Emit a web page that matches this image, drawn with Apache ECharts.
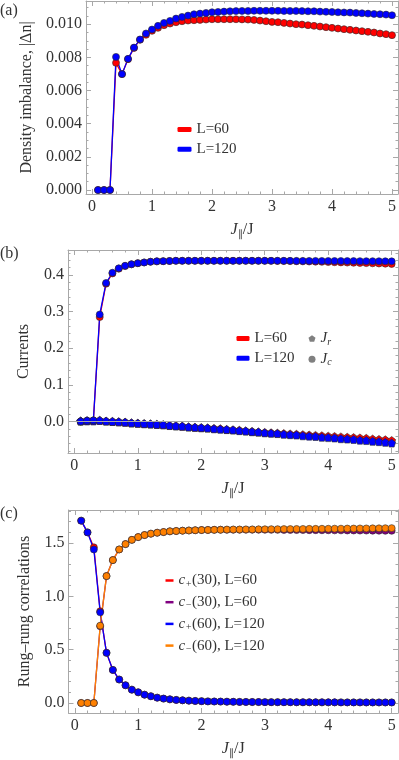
<!DOCTYPE html>
<html>
<head>
<meta charset="utf-8">
<script src="https://cdn.jsdelivr.net/npm/echarts@6/dist/echarts.min.js"></script>
<style>
  html, body { margin: 0; padding: 0; background: #fff; }
  #main { width: 399px; height: 760px; }
</style>
</head>
<body>
<div id="main"></div>
<script>
// J_par / J values (same grid for every curve)
const xs = [0.1, 0.2, 0.3, 0.4, 0.5, 0.6, 0.7, 0.8, 0.9, 1.0,
            1.1, 1.2, 1.3, 1.4, 1.5, 1.6, 1.7, 1.8, 1.9, 2.0,
            2.1, 2.2, 2.3, 2.4, 2.5, 2.6, 2.7, 2.8, 2.9, 3.0,
            3.1, 3.2, 3.3, 3.4, 3.5, 3.6, 3.7, 3.8, 3.9, 4.0,
            4.1, 4.2, 4.3, 4.4, 4.5, 4.6, 4.7, 4.8, 4.9, 5.0];

// (a) density imbalance |dn|
const dnL60 = [0, 0, 0, 0.00767, 0.00699, 0.00789, 0.00857, 0.00906, 0.00936, 0.0096,
               0.00978, 0.00994, 0.01004, 0.01012, 0.01018, 0.01022, 0.01024, 0.01026, 0.01028, 0.0103,
               0.0103, 0.0103, 0.0103, 0.0103, 0.01029, 0.01028, 0.01026, 0.01022, 0.01018, 0.01014,
               0.01012, 0.01008, 0.01004, 0.01, 0.00998, 0.00994, 0.0099, 0.00986, 0.00982, 0.00978,
               0.00974, 0.0097, 0.00966, 0.00962, 0.00958, 0.00954, 0.0095, 0.00944, 0.0094, 0.00934];
const dnL120 = [0, 0, 0, 0.00803, 0.00699, 0.00791, 0.00859, 0.00908, 0.00944, 0.00968,
                0.0099, 0.01008, 0.0102, 0.01034, 0.01044, 0.01052, 0.0106, 0.01064, 0.01068, 0.01072,
                0.01074, 0.01076, 0.01078, 0.01079, 0.0108, 0.0108, 0.01081, 0.01081, 0.01081, 0.01081,
                0.01081, 0.0108, 0.0108, 0.0108, 0.01079, 0.01078, 0.01078, 0.01076, 0.01075, 0.01074,
                0.01072, 0.01071, 0.0107, 0.01068, 0.01066, 0.01064, 0.01062, 0.0106, 0.01058, 0.01054];

// (b) currents
const jcL60 = [0, 0.002, 0.003, 0.285, 0.376, 0.404, 0.417, 0.424, 0.429, 0.432,
               0.434, 0.436, 0.437, 0.4375, 0.438, 0.4385, 0.4385, 0.4385, 0.4385, 0.4385,
               0.4385, 0.4385, 0.4385, 0.4385, 0.4385, 0.4385, 0.4385, 0.4385, 0.4385, 0.4385,
               0.4384, 0.4382, 0.438, 0.4377, 0.4374, 0.437, 0.4366, 0.4362, 0.4357, 0.4352,
               0.4347, 0.4342, 0.4337, 0.4332, 0.4327, 0.4322, 0.4317, 0.4312, 0.4307, 0.43];
const jcL120 = [0, 0.002, 0.003, 0.292, 0.378, 0.406, 0.418, 0.425, 0.429, 0.432,
                0.434, 0.436, 0.437, 0.4375, 0.438, 0.4385, 0.4385, 0.4385, 0.4385, 0.4385,
                0.4385, 0.4385, 0.4385, 0.4385, 0.4385, 0.4385, 0.4385, 0.4385, 0.4385, 0.4385,
                0.4385, 0.4385, 0.4384, 0.4384, 0.4383, 0.4383, 0.4382, 0.4382, 0.4381, 0.438,
                0.4379, 0.4379, 0.4378, 0.4377, 0.4376, 0.4375, 0.4374, 0.4373, 0.4372, 0.437];
const jrL60 = [0.001, 0.002, 0.002, 0.003, 0.001, 0.0, -0.001, -0.002, -0.004, -0.005,
               -0.006, -0.007, -0.008, -0.009, -0.011, -0.012, -0.013, -0.015, -0.016, -0.017,
               -0.018, -0.019, -0.020, -0.022, -0.023, -0.024, -0.026, -0.027, -0.029, -0.030,
               -0.031, -0.032, -0.033, -0.034, -0.035, -0.036, -0.037, -0.038, -0.039, -0.040,
               -0.041, -0.042, -0.043, -0.044, -0.045, -0.046, -0.048, -0.049, -0.050, -0.052];
const jrL120 = [0.001, 0.002, 0.002, 0.003, 0.001, 0.0, -0.001, -0.002, -0.004, -0.005,
                -0.006, -0.007, -0.008, -0.009, -0.011, -0.012, -0.013, -0.015, -0.016, -0.017,
                -0.018, -0.020, -0.021, -0.022, -0.023, -0.025, -0.026, -0.028, -0.029, -0.031,
                -0.032, -0.033, -0.035, -0.036, -0.037, -0.039, -0.040, -0.041, -0.043, -0.044,
                -0.045, -0.047, -0.048, -0.049, -0.051, -0.052, -0.054, -0.055, -0.057, -0.059];

// (c) rung-rung correlations
const cPlus30 = [1.71, 1.60, 1.46, 0.86, 0.47, 0.31, 0.22, 0.166, 0.125, 0.1,
                 0.078, 0.063, 0.05, 0.041, 0.034, 0.029, 0.025, 0.022, 0.019, 0.017,
                 0.015, 0.014, 0.013, 0.012, 0.011, 0.010, 0.0095, 0.009, 0.0085, 0.008,
                 0.0078, 0.0075, 0.0072, 0.007, 0.0068, 0.0066, 0.0064, 0.0062, 0.006, 0.0058,
                 0.0057, 0.0056, 0.0055, 0.0054, 0.0053, 0.0052, 0.0051, 0.005, 0.005, 0.005];
const cMinus30 = [0, 0, 0, 0.72, 1.19, 1.34, 1.44, 1.49, 1.53, 1.556,
                  1.575, 1.588, 1.597, 1.603, 1.61, 1.613, 1.616, 1.618, 1.62, 1.622,
                  1.623, 1.624, 1.625, 1.625, 1.625, 1.625, 1.625, 1.625, 1.625, 1.625,
                  1.624, 1.624, 1.623, 1.623, 1.622, 1.622, 1.621, 1.621, 1.62, 1.62,
                  1.619, 1.619, 1.618, 1.618, 1.617, 1.617, 1.616, 1.616, 1.615, 1.615];
const cPlus60 = [1.71, 1.60, 1.44, 0.85, 0.47, 0.31, 0.22, 0.166, 0.125, 0.1,
                 0.078, 0.063, 0.05, 0.041, 0.034, 0.029, 0.025, 0.022, 0.019, 0.017,
                 0.015, 0.014, 0.013, 0.012, 0.011, 0.010, 0.0095, 0.009, 0.0085, 0.008,
                 0.0078, 0.0075, 0.0072, 0.007, 0.0068, 0.0066, 0.0064, 0.0062, 0.006, 0.0058,
                 0.0057, 0.0056, 0.0055, 0.0054, 0.0053, 0.0052, 0.0051, 0.005, 0.005, 0.005];
const cMinus60 = [0, 0, 0, 0.725, 1.19, 1.34, 1.44, 1.49, 1.53, 1.556,
                  1.575, 1.588, 1.597, 1.603, 1.61, 1.613, 1.616, 1.618, 1.62, 1.622,
                  1.623, 1.624, 1.625, 1.626, 1.627, 1.627, 1.628, 1.628, 1.629, 1.629,
                  1.63, 1.63, 1.631, 1.631, 1.632, 1.632, 1.633, 1.633, 1.634, 1.634,
                  1.635, 1.635, 1.636, 1.636, 1.637, 1.637, 1.638, 1.638, 1.639, 1.64];

// tick labels
const xTicks = [0, 1, 2, 3, 4, 5];
const yTicksA = [0, 0.002, 0.004, 0.006, 0.008, 0.010];
const yTicksB = [0, 0.1, 0.2, 0.3, 0.4];
const yTicksC = [0, 0.5, 1.0, 1.5];

const FONT = 'Liberation Serif';
const TXT = '#333';
const FRAME = '#a8a8a8';
const PENTAGON = 'path://M0,-10L9.51,-3.09L5.88,8.09L-5.88,8.09L-9.51,-3.09Z';

function steps(a, b, s) {
  const out = [];
  for (let v = a; v <= b + 1e-12; v += s) out.push(Math.round(v / s) * s);
  return out;
}
const xMinor = steps(0, 5, 0.2).filter(v => Math.abs(v - Math.round(v)) > 1e-9);

const rich = {
  i: { fontFamily: FONT, fontStyle: 'italic', fontSize: 16, color: TXT, lineHeight: 18 },
  n: { fontFamily: FONT, fontSize: 16, color: TXT, lineHeight: 18 },
  sub: { fontFamily: FONT, fontSize: 10, color: TXT, lineHeight: 10, verticalAlign: 'bottom' }
};

const grids = [
  { left: 86, top: 1, right: 1, height: 193 },
  { left: 68, top: 250, right: 1, height: 203 },
  { left: 68.5, top: 510, right: 1, height: 203 }
];
const yRanges = [[-0.00024, 0.0114], [-0.086, 0.468], [-0.094, 1.81]];
const yMajors = [yTicksA, yTicksB, yTicksC];
const yMinors = [
  steps(0, 0.011, 0.0005).filter(v => Math.abs(v / 0.002 - Math.round(v / 0.002)) > 1e-6),
  steps(-0.08, 0.46, 0.02).filter(v => Math.abs(v / 0.1 - Math.round(v / 0.1)) > 1e-6),
  steps(0, 1.8, 0.1).filter(v => Math.abs(v / 0.5 - Math.round(v / 0.5)) > 1e-6)
];
const yNames = ['Density imbalance, |Δn|', 'Currents', 'Rung–rung correlations'];
const yNameGaps = [50, 36, 36];
const yFmt = [v => v.toFixed(3), v => v.toFixed(1), v => v.toFixed(1)];

const xAxes = [], yAxes = [];
grids.forEach((g, gi) => {
  const lineOn = { show: true, onZero: false, lineStyle: { color: FRAME, width: 1 } };
  const tick = (vals, len) => ({ show: true, inside: true, length: len, customValues: vals, lineStyle: { color: FRAME, width: 1 } });
  const base = { type: 'value', gridIndex: gi, min: -0.1, max: 5.1, splitLine: { show: false } };
  xAxes.push(Object.assign({}, base, {
    position: 'bottom', axisLine: lineOn, axisTick: tick(xTicks, 5),
    axisLabel: { customValues: xTicks, fontFamily: FONT, fontSize: 16, color: TXT, margin: 5, formatter: v => String(v) },
    name: '{i|J}{sub|∥}{n|/J}', nameLocation: 'middle', nameGap: 27,
    nameTextStyle: { rich: rich }
  }));
  xAxes.push(Object.assign({}, base, { position: 'bottom', axisLine: { show: false, onZero: false }, axisTick: tick(xMinor, 2.5), axisLabel: { show: false } }));
  xAxes.push(Object.assign({}, base, { position: 'top', axisLine: lineOn, axisTick: tick(xTicks, 5), axisLabel: { show: false } }));
  xAxes.push(Object.assign({}, base, { position: 'top', axisLine: { show: false, onZero: false }, axisTick: tick(xMinor, 2.5), axisLabel: { show: false } }));

  const yb = { type: 'value', gridIndex: gi, min: yRanges[gi][0], max: yRanges[gi][1], splitLine: { show: false } };
  yAxes.push(Object.assign({}, yb, {
    position: 'left', axisLine: lineOn, axisTick: tick(yMajors[gi], 5),
    axisLabel: { customValues: yMajors[gi], fontFamily: FONT, fontSize: 16, color: TXT, margin: 4, formatter: yFmt[gi] },
    name: yNames[gi], nameLocation: 'middle', nameGap: yNameGaps[gi],
    nameTextStyle: { fontFamily: FONT, fontSize: 16, color: TXT }
  }));
  yAxes.push(Object.assign({}, yb, { position: 'left', axisLine: { show: false, onZero: false }, axisTick: tick(yMinors[gi], 2.5), axisLabel: { show: false } }));
  yAxes.push(Object.assign({}, yb, { position: 'right', axisLine: lineOn, axisTick: tick(yMajors[gi], 5), axisLabel: { show: false } }));
  yAxes.push(Object.assign({}, yb, { position: 'right', axisLine: { show: false, onZero: false }, axisTick: tick(yMinors[gi], 2.5), axisLabel: { show: false } }));
});

function pts(ys) { return xs.map((x, i) => [x, ys[i]]); }
function line(name, ys, gi, color, symbol, size) {
  return {
    name: name, type: 'line', xAxisIndex: gi * 4, yAxisIndex: gi * 4,
    data: pts(ys), symbol: symbol || 'circle', symbolSize: size || 7,
    lineStyle: { color: color, width: 1.3 },
    itemStyle: { color: color, borderColor: '#2a2a2a', borderWidth: 0.6 },
    emphasis: { disabled: true }
  };
}
function dummy(name, gi) {
  return { name: name, type: 'line', xAxisIndex: gi * 4, yAxisIndex: gi * 4, data: [] };
}

const RED = '#ff0000', BLUE = '#0000ff', ORANGE = '#ff8000', PURPLE = '#800080', GRAY = '#808080';

const jrLow = line('bJr60', jrL60, 1, RED, PENTAGON, 8);
jrLow.markLine = {
  silent: true, symbol: ['none', 'none'], label: { show: false },
  lineStyle: { color: FRAME, width: 1, type: 'solid' },
  data: [{ yAxis: 0 }]
};

const series = [
  line('a60', dnL60, 0, RED),
  line('a120', dnL120, 0, BLUE),
  jrLow,
  line('bJc60', jcL60, 1, RED),
  line('bJr120', jrL120, 1, BLUE, PENTAGON, 8),
  line('bJc120', jcL120, 1, BLUE),
  dummy('bL60', 1), dummy('bL120', 1), dummy('bJr', 1), dummy('bJc', 1),
  line('cP30', cPlus30, 2, RED),
  line('cM30', cMinus30, 2, PURPLE),
  line('cP60', cPlus60, 2, BLUE),
  line('cM60', cMinus60, 2, ORANGE)
];

const legendText = {
  a60: '{n|L=60}', a120: '{n|L=120}',
  bL60: '{n|L=60}', bL120: '{n|L=120}',
  bJr: '{i|J}{sub|r}', bJc: '{i|J}{sub|c}',
  cP30: '{i|c}{sub|+}{n|(30), L=60}', cM30: '{i|c}{sub|−}{n|(30), L=60}',
  cP60: '{i|c}{sub|+}{n|(60), L=120}', cM60: '{i|c}{sub|−}{n|(60), L=120}'
};
const legendRich = {
  i: { fontFamily: FONT, fontStyle: 'italic', fontSize: 15, color: TXT, lineHeight: 17 },
  n: { fontFamily: FONT, fontSize: 15, color: TXT, lineHeight: 17 },
  sub: { fontFamily: FONT, fontStyle: 'italic', fontSize: 10, color: TXT, lineHeight: 10, verticalAlign: 'bottom' }
};
function legend(left, top, items, w, h, gap) {
  return {
    orient: 'vertical', left: left, top: top, itemWidth: w, itemHeight: h, itemGap: gap,
    selectedMode: false, padding: 0,
    data: items.map(it => ({ name: it[0], icon: it[1], itemStyle: { color: it[2], borderWidth: 0 } })),
    formatter: n => legendText[n],
    textStyle: { fontFamily: FONT, rich: legendRich }
  };
}

const option = {
  animation: false,
  backgroundColor: '#fff',
  textStyle: { fontFamily: FONT },
  grid: grids,
  xAxis: xAxes,
  yAxis: yAxes,
  legend: [
    legend(177.5, 122, [['a60', 'roundRect', RED], ['a120', 'roundRect', BLUE]], 14, 5, 4.7),
    legend(236.5, 331, [['bL60', 'roundRect', RED], ['bL120', 'roundRect', BLUE]], 13, 5, 4.7),
    legend(308.5, 331, [['bJr', PENTAGON, GRAY], ['bJc', 'circle', GRAY]], 7, 7, 4.7),
    legend(165.5, 573, [['cP30', 'rect', RED], ['cM30', 'rect', PURPLE], ['cP60', 'rect', BLUE], ['cM60', 'rect', ORANGE]], 8, 2.5, 5.7)
  ],
  graphic: [
    { type: 'text', left: 0, top: 3, style: { text: '(a)', font: '16px "Liberation Serif"', fill: TXT } },
    { type: 'text', left: 0, top: 246, style: { text: '(b)', font: '16px "Liberation Serif"', fill: TXT } },
    { type: 'text', left: 0, top: 506, style: { text: '(c)', font: '16px "Liberation Serif"', fill: TXT } }
  ],
  series: series
};

const chart = echarts.init(document.getElementById('main'));
chart.setOption(option);
</script>
</body>
</html>
